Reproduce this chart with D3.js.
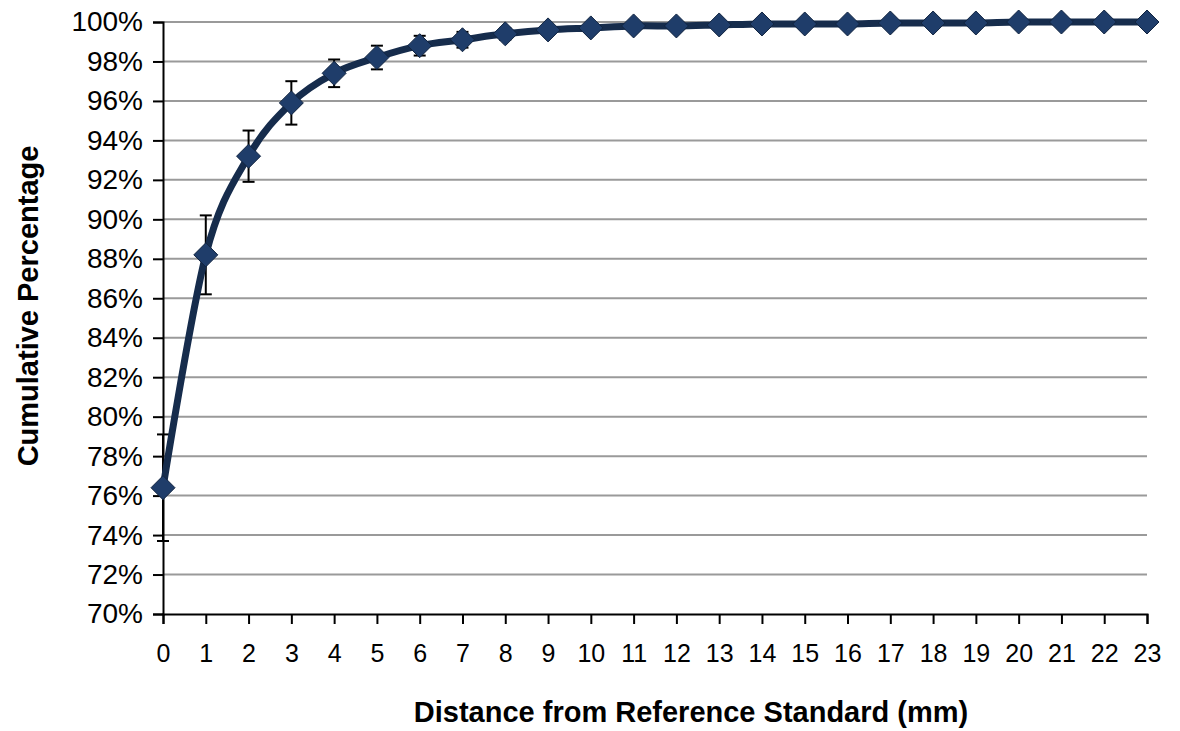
<!DOCTYPE html>
<html>
<head>
<meta charset="utf-8">
<script src="https://cdn.jsdelivr.net/npm/d3@7"></script>
<style>
  body { margin: 0; background: #fff; }
  text { font-family: "Liberation Sans", Arial, sans-serif; }
</style>
</head>
<body>
<script>
// Datos
const distances = d3.range(0, 24);
const cumulative = [76.4, 88.2, 93.2, 95.9, 97.4, 98.2, 98.8, 99.1, 99.4, 99.6, 99.7, 99.8,
    99.8, 99.85, 99.9, 99.9, 99.9, 99.95, 99.95, 99.95, 100, 100, 100, 100];
const errors = [2.7, 2.0, 1.3, 1.1, 0.7, 0.6, 0.5, 0.4, 0.3, 0.2, 0.1, 0.1,
    0, 0, 0, 0, 0, 0, 0, 0, 0, 0, 0, 0];
const yTicks = d3.range(70, 101, 2);

const data = distances.map((d, i) => ({x: d, y: cumulative[i], e: errors[i]}));

var width = 1180, height = 731;
var margin = {top: 22, right: 33, bottom: 117, left: 163};
var innerW = width - margin.left - margin.right;
var innerH = height - margin.top - margin.bottom;

var svg = d3.select("body").append("svg")
    .attr("width", width)
    .attr("height", height);

var g = svg.append("g")
    .attr("transform", `translate(${margin.left}, ${margin.top})`);

const x = d3.scaleLinear().domain([0, 23]).range([0, innerW]);
const y = d3.scaleLinear().domain([70, 100]).range([innerH, 0]);

// Líneas de guía horizontales
g.selectAll("line.grid")
    .data(yTicks.filter(d => d > 70))
    .enter()
    .append("line")
    .attr("class", "grid")
    .attr("x1", 0)
    .attr("x2", innerW)
    .attr("y1", d => y(d))
    .attr("y2", d => y(d))
    .attr("stroke", "#9a9a9a")
    .attr("stroke-width", 2);

// Eje Y
var yAxis = d3.axisLeft(y)
    .tickValues(yTicks)
    .tickSize(10)
    .tickPadding(10)
    .tickFormat(d => d + "%");
var yg = g.append("g").call(yAxis);
yg.select(".domain").attr("stroke", "#000").attr("stroke-width", 2);
yg.selectAll(".tick line").attr("stroke", "#000").attr("stroke-width", 2);
yg.selectAll("text").style("font-size", "28px").attr("fill", "#000");

// Eje X
var xAxis = d3.axisBottom(x)
    .tickValues(distances)
    .tickSize(10)
    .tickPadding(20)
    .tickFormat(d3.format("d"));
var xg = g.append("g")
    .attr("transform", `translate(0, ${innerH})`)
    .call(xAxis);
xg.select(".domain").attr("stroke", "#000").attr("stroke-width", 2);
xg.selectAll(".tick line").attr("stroke", "#000").attr("stroke-width", 2);
xg.selectAll("text").style("font-size", "25px").attr("fill", "#000");

// Barras de error
const err = g.selectAll("g.err")
    .data(data.filter(d => d.e > 0))
    .enter()
    .append("g")
    .attr("class", "err")
    .attr("stroke", "#000")
    .attr("stroke-width", 2);
err.append("line")
    .attr("x1", d => x(d.x)).attr("x2", d => x(d.x))
    .attr("y1", d => y(d.y + d.e)).attr("y2", d => y(d.y - d.e));
err.append("line")
    .attr("x1", d => x(d.x) - 6).attr("x2", d => x(d.x) + 6)
    .attr("y1", d => y(d.y + d.e)).attr("y2", d => y(d.y + d.e));
err.append("line")
    .attr("x1", d => x(d.x) - 6).attr("x2", d => x(d.x) + 6)
    .attr("y1", d => y(d.y - d.e)).attr("y2", d => y(d.y - d.e));

// Línea suavizada (estilo Excel)
const line = d3.line()
    .x(d => x(d.x))
    .y(d => y(d.y))
    .curve(d3.curveCatmullRom.alpha(0));
g.append("path")
    .datum(data)
    .attr("fill", "none")
    .attr("stroke", "#162c4c")
    .attr("stroke-width", 7)
    .attr("stroke-linejoin", "round")
    .attr("d", line);

// Marcadores de diamante
g.selectAll("path.marker")
    .data(data)
    .enter()
    .append("path")
    .attr("class", "marker")
    .attr("transform", d => `translate(${x(d.x)}, ${y(d.y)})`)
    .attr("d", "M0,-12L12,0L0,12L-12,0Z")
    .attr("fill", "#1f3d6a")
    .attr("stroke", "#112440")
    .attr("stroke-width", 1);

// Títulos de los ejes
svg.append("text")
    .attr("x", 691)
    .attr("y", 722)
    .attr("text-anchor", "middle")
    .style("font-size", "29px")
    .style("font-weight", "bold")
    .text("Distance from Reference Standard (mm)");

svg.append("text")
    .attr("transform", "translate(38, 306) rotate(-90)")
    .attr("text-anchor", "middle")
    .style("font-size", "29px")
    .style("font-weight", "bold")
    .text("Cumulative Percentage");
</script>
</body>
</html>
